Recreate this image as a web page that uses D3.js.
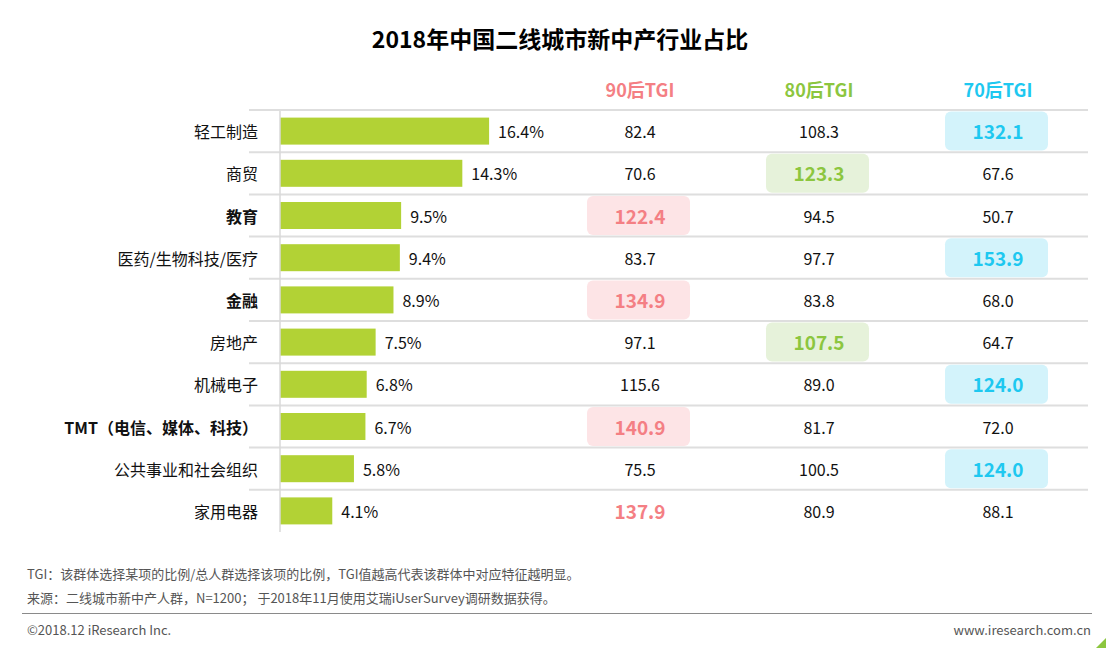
<!DOCTYPE html>
<html><head><meta charset="utf-8">
<script src="https://cdn.jsdelivr.net/npm/d3@7"></script>
<style>
html,body{margin:0;padding:0;background:#fff;}
svg{display:block;font-family:"Microsoft YaHei","Noto Sans CJK SC","Noto Sans",sans-serif;}
</style></head>
<body>
<script>
const categories = ["轻工制造","商贸","教育","医药/生物科技/医疗","金融","房地产","机械电子","TMT（电信、媒体、科技）","公共事业和社会组织","家用电器"];
const share = [16.4,14.3,9.5,9.4,8.9,7.5,6.8,6.7,5.8,4.1];
const tgi90 = [82.4,70.6,122.4,83.7,134.9,97.1,115.6,140.9,75.5,137.9];
const tgi80 = [108.3,123.3,94.5,97.7,83.8,107.5,89.0,81.7,100.5,80.9];
const tgi70 = [132.1,67.6,50.7,153.9,68.0,64.7,124.0,72.0,124.0,88.1];
const seriesNames = ["90后TGI","80后TGI","70后TGI"];
const boldCategories = ["教育","金融","TMT（电信、媒体、科技）"];
const unboxedCategories = ["家用电器"];
const title = "2018年中国二线城市新中产行业占比";
const note1 = "TGI：该群体选择某项的比例/总人群选择该项的比例，TGI值越高代表该群体中对应特征越明显。";
const note2 = "来源：二线城市新中产人群，N=1200； 于2018年11月使用艾瑞iUserSurvey调研数据获得。";
const copyright = "©2018.12 iResearch Inc.";
const website = "www.iresearch.com.cn";

const W = 1106, H = 648;
const colText = ["#f47f84","#8cc63f","#1ec8f0"];
const colBox = ["#fde4e6","#e6f2da","#d3f3fb"];
const barColor = "#b2d235";

const svg = d3.select("body").append("svg").attr("width",W).attr("height",H);

svg.append("text").attr("x",560).attr("y",48).attr("text-anchor","middle")
  .attr("font-size",23).attr("font-weight","bold").attr("fill","#000").text(title);

const y = d3.scaleBand().domain(categories).range([110,532]).padding(0);
const x = d3.scaleLinear().domain([0,20]).range([280,535]);
const colX = d3.scalePoint().domain(seriesNames).range([640,998]);

// separator lines
const lineYs = categories.map(c => y(c));
svg.append("g").selectAll("line").data(lineYs).join("line")
  .attr("x1",249).attr("x2",1088).attr("y1",d=>d).attr("y2",d=>d)
  .attr("stroke","#dedede").attr("stroke-width",2);

// headers
svg.append("g").selectAll("text").data(seriesNames).join("text")
  .attr("x",d=>colX(d)).attr("y",97).attr("text-anchor","middle")
  .attr("font-size",18).attr("font-weight","bold")
  .attr("fill",(d,i)=>colText[i]).text(d=>d);

// bars
const rows = categories.map((c,i)=>({c, v:share[i], t:[tgi90[i],tgi80[i],tgi70[i]]}));
svg.append("g").selectAll("rect").data(rows).join("rect")
  .attr("x",x(0)).attr("y",d=>y(d.c)+y.bandwidth()/2-13.5)
  .attr("width",d=>x(d.v)-x(0)).attr("height",27).attr("fill",barColor);

// axis line
svg.append("line").attr("x1",280).attr("x2",280).attr("y1",111).attr("y2",532)
  .attr("stroke","#d9d9d9").attr("stroke-width",1.5);

// bar value labels
svg.append("g").selectAll("text").data(rows).join("text")
  .attr("x",d=>x(d.v)+9).attr("y",d=>y(d.c)+y.bandwidth()/2+7)
  .attr("font-size",16).attr("fill","#111").text(d=>d.v.toFixed(1)+"%");

// category labels
svg.append("g").selectAll("text").data(rows).join("text")
  .attr("x",258).attr("y",d=>y(d.c)+y.bandwidth()/2+7).attr("text-anchor","end")
  .attr("font-size",16)
  .attr("font-weight",d=>boldCategories.includes(d.c)?"bold":"normal")
  .attr("fill","#111").text(d=>d.c);

// table cells
const cells = [];
rows.forEach(r=>{
  const m = d3.max(r.t);
  r.t.forEach((v,j)=>cells.push({c:r.c, j, v, hi: v===m, box: v===m && !unboxedCategories.includes(r.c)}));
});
const g = svg.append("g");
g.selectAll("rect").data(cells.filter(d=>d.box)).join("rect")
  .attr("x",d=>colX(seriesNames[d.j])-53).attr("y",d=>y(d.c)+y.bandwidth()/2-19.5)
  .attr("width",103).attr("height",39).attr("rx",6)
  .attr("fill",d=>colBox[d.j]);
g.selectAll("text").data(cells).join("text")
  .attr("x",d=>colX(seriesNames[d.j])).attr("y",d=>y(d.c)+y.bandwidth()/2+(d.hi?8:7))
  .attr("text-anchor","middle")
  .attr("font-size",d=>d.hi?19:16)
  .attr("font-weight",d=>d.hi?"bold":"normal")
  .attr("fill",d=>d.hi?colText[d.j]:"#111")
  .text(d=>d.v.toFixed(1));

// footnotes
svg.append("text").attr("x",27).attr("y",579).attr("font-size",13).attr("fill","#555").text(note1);
svg.append("text").attr("x",27).attr("y",603).attr("font-size",13).attr("fill","#555").text(note2);
svg.append("line").attr("x1",22).attr("x2",1092).attr("y1",613.5).attr("y2",613.5)
  .attr("stroke","#8a8a8a").attr("stroke-width",1);
svg.append("text").attr("x",27).attr("y",635).attr("font-size",13).attr("fill","#555").text(copyright);
svg.append("text").attr("x",1091).attr("y",635).attr("text-anchor","end").attr("font-size",13).attr("fill","#555").text(website);
svg.append("path").attr("d","M1106,638 L1106,648 L1096,648 Z").attr("fill","#8cc63f");
</script>
</body></html>
